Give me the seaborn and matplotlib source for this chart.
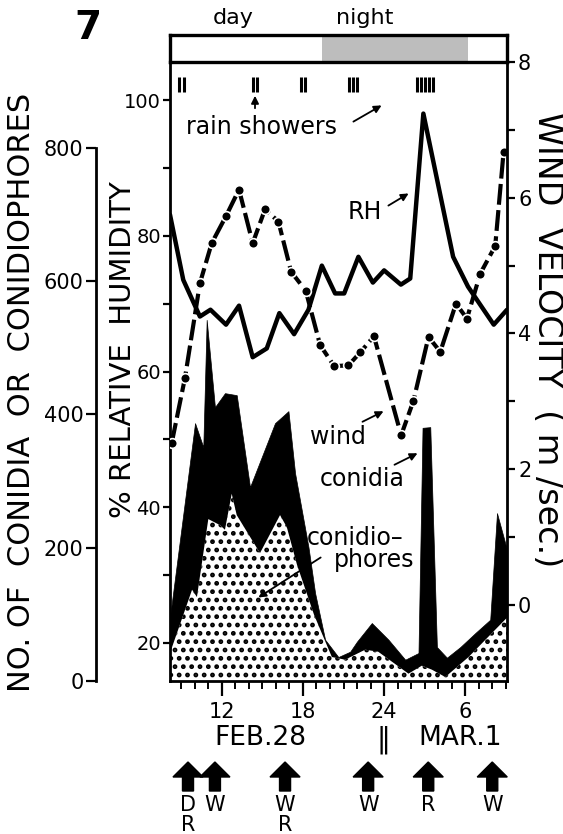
import numpy as np
import pandas as pd
import matplotlib.pyplot as plt
import seaborn as sns
from matplotlib.patches import Polygon

# time in hours from 0:00 Feb 28 (24 = midnight, 30 = 6:00 Mar 1)
rh_hours = [8.18, 9.16, 10.39, 11.17, 12.32, 13.28, 14.29, 15.33, 16.26, 17.35, 18.41, 19.40,
            20.38, 21.05, 22.10, 23.17, 24.00, 25.24, 25.93, 26.90, 29.10, 30.20, 32.10, 33.08]
rh_values = [83.1, 73.5, 68.1, 69.1, 66.9, 69.7, 62.1, 63.4, 68.6, 65.5, 69.1, 75.6,
             71.5, 71.5, 76.9, 73.1, 74.9, 72.8, 73.7, 98.0, 76.9, 72.5, 66.9, 69.1]

wind_hours = [8.30, 9.29, 10.39, 11.26, 12.32, 13.28, 14.29, 15.20, 16.19, 17.13, 18.21, 19.27,
              20.31, 21.36, 22.23, 23.25, 25.26, 26.17, 27.28, 28.15, 29.31, 30.12, 31.10, 32.21, 32.83]
wind_values = [2.38, 3.35, 4.74, 5.33, 5.73, 6.12, 5.33, 5.83, 5.65, 4.91, 4.63, 3.83,
               3.52, 3.53, 3.72, 3.96, 2.50, 3.01, 3.95, 3.73, 4.44, 4.22, 4.88, 5.29, 6.68]

conidia_hours = [8.18, 10.03, 10.64, 10.89, 11.50, 12.24, 13.11, 14.09, 15.94, 16.93, 17.42, 18.41,
                 18.90, 19.64, 20.62, 21.49, 21.99, 23.09, 24.32, 25.56, 26.54, 26.84, 27.41, 27.90,
                 28.64, 29.63, 30.74, 31.84, 32.34, 33.08]
conidia_values = [96, 387, 351, 542, 411, 432, 429, 291, 387, 405, 312, 201,
                  132, 62, 36, 44, 59, 87, 62, 32, 42, 380, 381, 51,
                  35, 51, 72, 92, 252, 197]

phore_hours = [8.18, 9.81, 10.17, 11.01, 11.87, 12.24, 12.74, 13.11, 14.83, 16.31, 16.81, 17.57,
               18.83, 20.14, 21.12, 22.60, 23.56, 25.80, 26.79, 27.53, 28.52, 30.24, 31.97, 33.08]
phore_values = [42, 137, 126, 243, 234, 227, 281, 249, 192, 249, 231, 174,
                99, 36, 32, 47, 44, 11, 23, 17, 6, 36, 72, 95]

rain_hours = [9.03, 14.46, 17.98, 21.71, 27.04]
rain_counts = [2, 2, 2, 3, 5]

night_start, night_end = 19.4, 30.2

event_hours = [9.51, 11.5, 16.68, 22.82, 27.26, 31.99]
event_labels = ['D\nR', 'W', 'W\nR', 'W', 'R', 'W']

x_ticks = [12, 18, 24, 30]
x_ticklabels = ['12', '18', '24', '6']

sns.set_theme(style='ticks')
plt.rcParams['font.family'] = ['DejaVu Sans']
plt.rcParams['hatch.linewidth'] = 2.2
for key in ['text.color', 'axes.labelcolor', 'xtick.color', 'ytick.color', 'axes.edgecolor']:
    plt.rcParams[key] = 'black'

W, H = 563, 834
fig = plt.figure(figsize=(W / 100, H / 100), dpi=100)


def box(x0, y0, x1, y1):
    return [x0 / W, 1 - y1 / H, (x1 - x0) / W, (y1 - y0) / H]


def P(x, y):
    return (x / W, 1 - y / H)


XLIM = (8.18, 33.08)
LW = 2.0
TFS = 15

# conidia axis (bottom layer, offset spine on the far left)
ax_c = fig.add_axes(box(170, 62, 507, 681))
ax_c.set_xlim(*XLIM)
ax_c.set_ylim(0, 929)
ax_c.fill_between(conidia_hours, 0, conidia_values, color='black', lw=0.5)
ax_c.fill_between(phore_hours, 0, phore_values, facecolor='white', edgecolor='black',
                  hatch='..', lw=0)
ax_c.spines['left'].set_position(('axes', (96 - 170) / 337))
ax_c.spines['left'].set_bounds(0, 800)
ax_c.spines['right'].set_visible(False)
for s in ['left', 'bottom', 'top']:
    ax_c.spines[s].set_linewidth(LW)
ax_c.set_yticks([0, 200, 400, 600, 800])
ax_c.tick_params(axis='y', direction='out', length=7, width=1.6, labelsize=TFS, pad=2)
ax_c.set_xticks(x_ticks)
ax_c.set_xticklabels(x_ticklabels)
ax_c.set_xticks(np.arange(9, 34), minor=True)
ax_c.tick_params(axis='x', which='major', direction='out', length=11, width=1.6,
                 labelsize=TFS, pad=4)
ax_c.tick_params(axis='x', which='minor', direction='out', length=6, width=1.4)

# relative humidity (inner left spine)
ax_rh = ax_c.twinx()
ax_rh.yaxis.tick_left()
ax_rh.set_ylim(14.4, 105.6)
sns.lineplot(x=rh_hours, y=rh_values, ax=ax_rh, color='black', lw=3.2)
ax_rh.set_yticks([20, 40, 60, 80, 100])
ax_rh.set_yticks([30, 50, 70, 90], minor=True)
ax_rh.tick_params(axis='y', which='both', direction='out', length=5, width=1.6,
                  labelsize=14, pad=1.5, left=True, right=False)
for s in ['right', 'top', 'bottom']:
    ax_rh.spines[s].set_visible(False)
ax_rh.spines['left'].set_linewidth(LW)
ax_rh.set_ylabel('')

# rain shower marks
tr = ax_rh.get_xaxis_transform()
for h, n in zip(rain_hours, rain_counts):
    xs = h + (np.arange(n) - (n - 1) / 2) * 0.3
    ax_rh.vlines(xs, 0.951, 0.976, transform=tr, color='black', lw=2.2)

# wind velocity (right spine)
ax_w = ax_c.twinx()
ax_w.set_ylim(-1.12, 8)
sns.lineplot(x=wind_hours, y=wind_values, ax=ax_w, color='black', lw=3.0,
             marker='o', markersize=7, markeredgecolor='white', markeredgewidth=1.2)
ax_w.lines[-1].set_dashes([5, 1.3])
ax_w.set_yticks([0, 2, 4, 6, 8])
ax_w.set_yticks([1, 3, 5, 7], minor=True)
ax_w.tick_params(axis='y', which='both', direction='out', length=6, width=1.6,
                 labelsize=TFS, pad=2)
for s in ['left', 'top', 'bottom']:
    ax_w.spines[s].set_visible(False)
ax_w.spines['right'].set_linewidth(LW)
ax_w.set_ylabel('')

# day / night bar
ax_bar = fig.add_axes(box(170, 35, 507, 62))
ax_bar.set_xlim(*XLIM)
ax_bar.set_ylim(0, 1)
ax_bar.axvspan(night_start, night_end, color='#bdbdbd', lw=0)
ax_bar.set_xticks([])
ax_bar.set_yticks([])
for s in ax_bar.spines.values():
    s.set_linewidth(2.4)
    s.set_color('black')
fig.text(*P(233, 18), 'day', ha='center', va='center', fontsize=16)
fig.text(*P(365, 18), 'night', ha='center', va='center', fontsize=16)
fig.text(*P(88, 28), '7', ha='center', va='center', fontsize=28, fontweight='bold')

# annotations
AFS = 17
arrow = dict(arrowstyle='-|>', lw=1.3, color='black', mutation_scale=11)


def note(x0, y0, x1, y1):
    fig.add_artist(plt.Annotation('', xy=P(x1, y1), xytext=P(x0, y0),
                                  xycoords='figure fraction', textcoords='figure fraction',
                                  arrowprops=arrow))


fig.text(*P(262, 127), 'rain showers', ha='center', va='center', fontsize=AFS)
note(255, 111, 255, 93)
note(351, 123, 384, 104)
fig.text(*P(365, 212), 'RH', ha='center', va='center', fontsize=AFS)
note(386, 207, 411, 192)
fig.text(*P(338, 437), 'wind', ha='center', va='center', fontsize=AFS)
note(360, 423, 386, 410)
fig.text(*P(362, 479), 'conidia', ha='center', va='center', fontsize=AFS)
note(392, 466, 420, 452)
fig.text(*P(355, 538), 'conidio\u2013', ha='center', va='center', fontsize=AFS)
fig.text(*P(374, 560), 'phores', ha='center', va='center', fontsize=AFS)
note(323, 556, 256, 599)

# axis titles
fig.text(*P(22, 392), 'NO. OF  CONIDIA  OR  CONIDIOPHORES', rotation=90,
         ha='center', va='center', fontsize=22)
fig.text(*P(123, 350), '% RELATIVE  HUMIDITY', rotation=90,
         ha='center', va='center', fontsize=21)
fig.text(*P(548, 340), 'WIND  VELOCITY  ( m /sec.)', rotation=-90,
         ha='center', va='center', fontsize=24)

# date labels
fig.text(*P(260, 738), 'FEB.28', ha='center', va='center', fontsize=19)
fig.text(*P(460, 738), 'MAR.1', ha='center', va='center', fontsize=19)
fig.text(*P(383, 740), '\u2016', ha='center', va='center', fontsize=20)

# event arrows
ax_ev = fig.add_axes(box(170, 755, 507, 834))
ax_ev.set_xlim(*XLIM)
ax_ev.set_ylim(834, 755)
ax_ev.axis('off')
hw, sw = 15 / 13.52, 5.5 / 13.52
for h, lab in zip(event_hours, event_labels):
    pts = [(h, 762), (h + hw, 777), (h + sw, 777), (h + sw, 791),
           (h - sw, 791), (h - sw, 777), (h - hw, 777)]
    ax_ev.add_patch(Polygon(pts, closed=True, color='black', clip_on=False))
    ax_ev.text(h, 795, lab, ha='center', va='top', fontsize=15, linespacing=1.0,
               clip_on=False)

fig.savefig('out.png', dpi=100)
